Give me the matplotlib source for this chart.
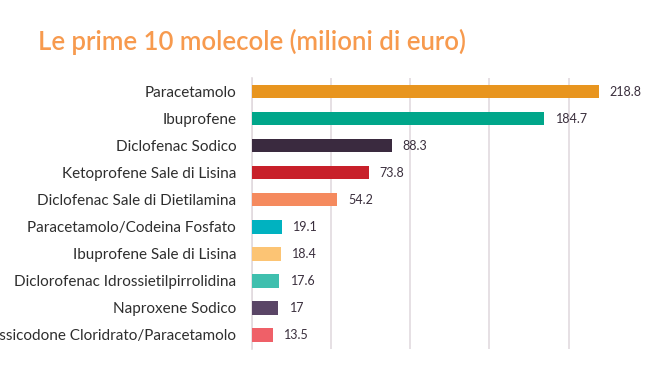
import matplotlib
matplotlib.use("Agg")
import matplotlib.pyplot as plt

categories = [
    "Paracetamolo",
    "Ibuprofene",
    "Diclofenac Sodico",
    "Ketoprofene Sale di Lisina",
    "Diclofenac Sale di Dietilamina",
    "Paracetamolo/Codeina Fosfato",
    "Ibuprofene Sale di Lisina",
    "Diclorofenac Idrossietilpirrolidina",
    "Naproxene Sodico",
    "Ossicodone Cloridrato/Paracetamolo",
]
values = [218.8, 184.7, 88.3, 73.8, 54.2, 19.1, 18.4, 17.6, 17, 13.5]
value_labels = ["218.8", "184.7", "88.3", "73.8", "54.2", "19.1", "18.4", "17.6", "17", "13.5"]
colors = ["#E8951F", "#00A68A", "#3A2A3F", "#C8202A", "#F58A5E",
          "#00B2C0", "#FCC474", "#3FBFAE", "#5A4566", "#EF6068"]
title = "Le prime 10 molecole (milioni di euro)"

plt.rcParams['font.family'] = ['Lato', 'DejaVu Sans']

fig = plt.figure(figsize=(6.6, 3.65), dpi=100)
W, H = 660, 365
ax = fig.add_axes([251.5 / W, 1 - 348.5 / H, (648 - 251.5) / W, (348.5 - 78) / H])

y = list(range(len(categories)))
ax.barh(y, values, height=0.5, color=colors, zorder=3)
ax.set_ylim(len(categories) - 0.5, -0.5)
ax.set_xlim(0, 250)
ax.set_xticks([0, 50, 100, 150, 200])
ax.tick_params(axis='x', length=0, labelbottom=False)
ax.tick_params(axis='y', length=0, pad=11)
ax.set_yticks(y)
ax.set_yticklabels(categories, fontsize=11, color="#2E2E2E")
ax.grid(axis='x', color="#E2DADF", linewidth=1.2, zorder=0)
for s in ["top", "right", "bottom"]:
    ax.spines[s].set_visible(False)
ax.spines["left"].set_color("#E2DADF")
ax.spines["left"].set_linewidth(1.2)

for yi, v, lab in zip(y, values, value_labels):
    ax.annotate(lab, (v, yi), xytext=(8, 0), textcoords="offset points",
                va="center", ha="left", fontsize=9, color="#3A2F3D")

fig.text(38 / W, 1 - 50 / H, title, fontsize=18.5, color="#F79A4E",
         ha="left", va="baseline", fontweight="semibold")

fig.savefig("out.png", dpi=100)
